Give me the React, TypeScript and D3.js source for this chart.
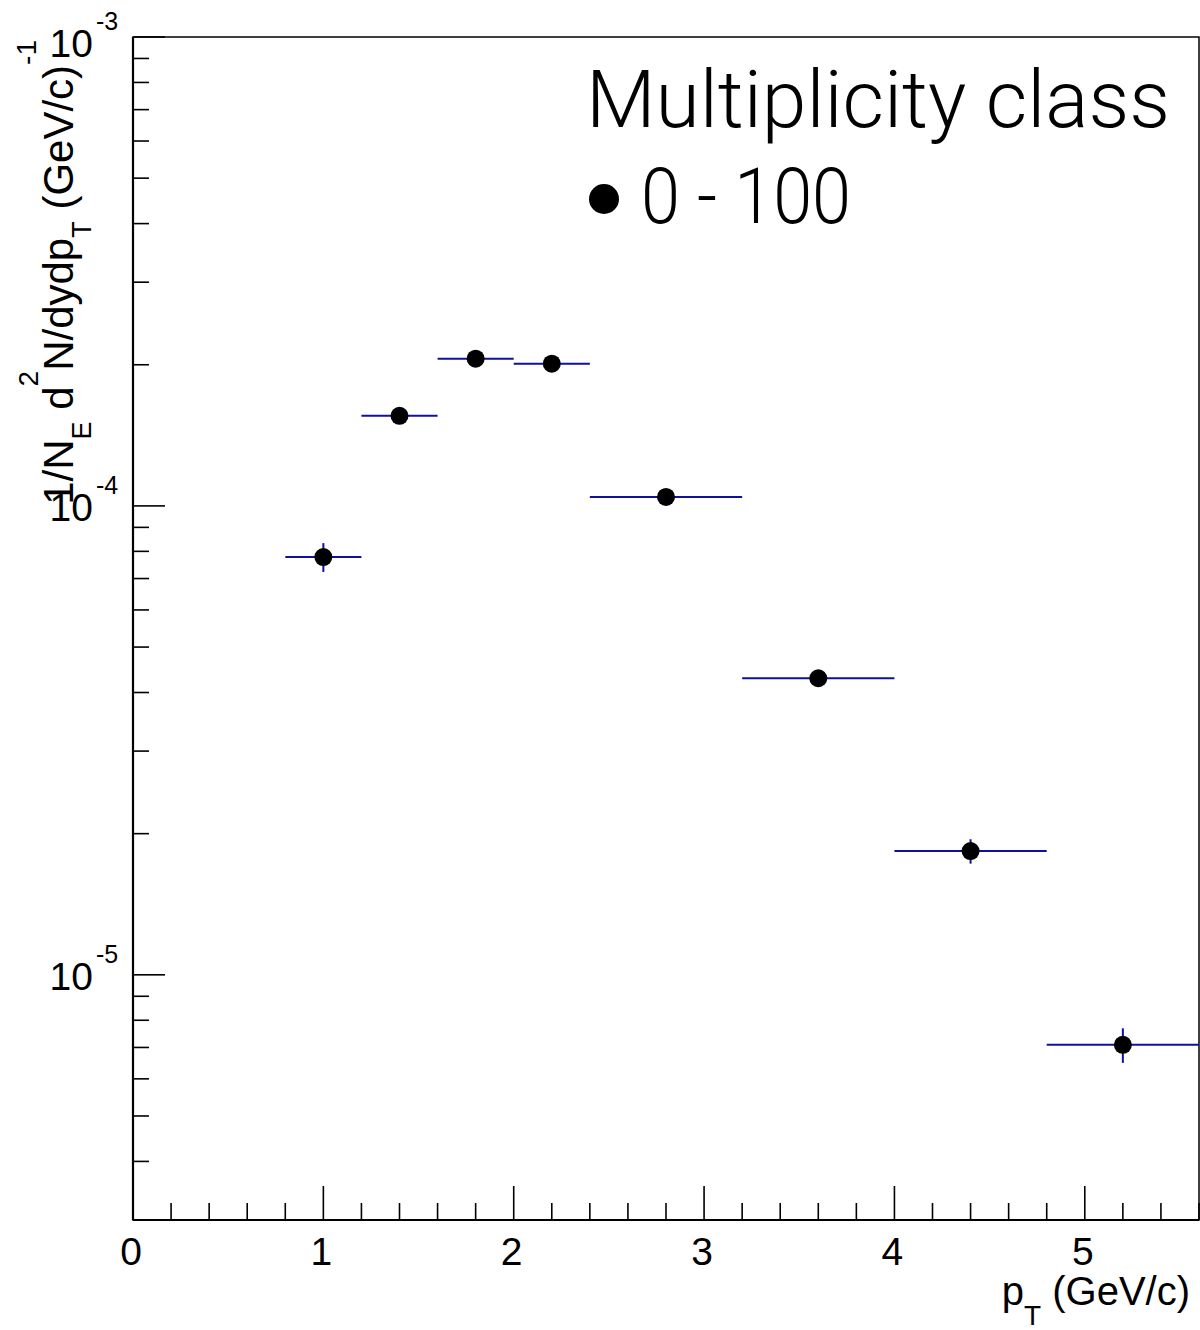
import React from "react";
import * as d3 from "d3";

// pT bins (GeV/c) and yields for multiplicity class 0 - 100
const ptCenter = [1.0, 1.4, 1.8, 2.2, 2.8, 3.6, 4.4, 5.2];
const ptLow = [0.8, 1.2, 1.6, 2.0, 2.4, 3.2, 4.0, 4.8];
const ptHigh = [1.2, 1.6, 2.0, 2.4, 3.2, 4.0, 4.8, 5.6];
const yieldVal = [7.78e-5, 1.556e-4, 2.06e-4, 2.01e-4, 1.045e-4, 4.29e-5, 1.836e-5, 7.09e-6];
const yieldErr = [5.5e-6, 4e-6, 4e-6, 4e-6, 2.5e-6, 1.2e-6, 1.1e-6, 6e-7];

const xTickLabels = ["0", "1", "2", "3", "4", "5"];
const yTickExponents = ["-3", "-4", "-5"];

const W = 1200;
const H = 1330;
const left = 133;
const right = 1199;
const top = 37;
const bottom = 1220;

const font = "'Liberation Sans', Arial, Helvetica, sans-serif";
const lightFont = "Roboto, 'Open Sans', 'Liberation Sans', sans-serif";
const errColor = "#1010a0";

export default function App() {
  const x = d3.scaleLinear().domain([0, 5.6]).range([left, right]);
  const y = d3.scaleLog().domain([3e-6, 1e-3]).range([bottom, top]);

  // minor ticks every 0.2, major at integers
  const xTicks = x.ticks(28);
  const yTicks = y.ticks();

  return (
    <svg
      width={W}
      height={H}
      style={{ position: "absolute", left: 0, top: 0, background: "#fff" }}
    >
      {/* frame */}
      <rect x={left} y={top} width={right - left} height={bottom - top} fill="none" stroke="#000" strokeWidth={1.5} />
      <line x1={left} x2={left} y1={top} y2={bottom} stroke="#000" strokeWidth={2.2} />
      <line x1={left} x2={right} y1={bottom} y2={bottom} stroke="#000" strokeWidth={2.2} />

      {/* x ticks */}
      {xTicks.map((t, i) => {
        const major = Math.abs(t - Math.round(t)) < 1e-6;
        return (
          <line key={"xt" + i} x1={x(t)} x2={x(t)} y1={bottom} y2={bottom - (major ? 34 : 17)} stroke="#000" strokeWidth={1.6} />
        );
      })}
      {xTickLabels.map((lab, i) => (
        <text key={"xl" + i} x={x(+lab) - 2} y={1265} fontFamily={font} fontSize={39} textAnchor="middle" fill="#000">
          {lab}
        </text>
      ))}

      {/* y ticks */}
      {yTicks.map((t, i) => {
        const major = Math.abs(Math.log10(t) - Math.round(Math.log10(t))) < 1e-6;
        return (
          <line key={"yt" + i} x1={left} x2={left + (major ? 32 : 16)} y1={y(t)} y2={y(t)} stroke="#000" strokeWidth={1.6} />
        );
      })}
      {yTickExponents.map((e, i) => {
        const yy = y(Math.pow(10, +e));
        const base = i === 0 ? yy + 20 : yy + 15;
        return (
          <text key={"yl" + i} x={93} y={base} fontFamily={font} fontSize={39} textAnchor="end" fill="#000">
            10
            <tspan x={96} dy={-27} fontSize={25} textAnchor="start">
              {e}
            </tspan>
          </text>
        );
      })}

      {/* data: horizontal bin widths and vertical errors */}
      {ptCenter.map((p, i) => (
        <g key={"d" + i}>
          <line x1={x(ptLow[i])} x2={x(ptHigh[i])} y1={y(yieldVal[i])} y2={y(yieldVal[i])} stroke={errColor} strokeWidth={2} />
          <line x1={x(p)} x2={x(p)} y1={y(yieldVal[i] - yieldErr[i])} y2={y(yieldVal[i] + yieldErr[i])} stroke={errColor} strokeWidth={2} />
          <circle cx={x(p)} cy={y(yieldVal[i])} r={9} fill="#000" />
        </g>
      ))}

      {/* legend */}
      <text x={586} y={127} fontFamily={lightFont} fontWeight={300} fontSize={79} fill="#000" textLength={584} lengthAdjust="spacingAndGlyphs">
        Multiplicity class
      </text>
      <circle cx={604} cy={199} r={15} fill="#000" />
      <text x={641} y={223} fontFamily={lightFont} fontWeight={300} fontSize={77} fill="#000" textLength={210} lengthAdjust="spacingAndGlyphs">
        0 - 100
      </text>

      {/* x axis title */}
      <text x={1190} y={1305} fontFamily={font} fontSize={40} textAnchor="end" fill="#000">
        p<tspan dy={20} fontSize={28}>T</tspan>
        <tspan dy={-20}> (GeV/c)</tspan>
      </text>

      {/* y axis title */}
      <text transform={`translate(73, 40) rotate(-90)`} fontFamily={font} fontSize={42} textAnchor="end" fill="#000">
        1/N<tspan dy={18} fontSize={27}>E</tspan>
        <tspan dy={-18}> d</tspan>
        <tspan dy={-35} fontSize={28}>2</tspan>
        <tspan dy={35}>N/dydp</tspan>
        <tspan dy={18} fontSize={27}>T</tspan>
        <tspan dy={-18}> (GeV/c)</tspan>
        <tspan dy={-37} fontSize={28}>-1</tspan>
      </text>
    </svg>
  );
}
